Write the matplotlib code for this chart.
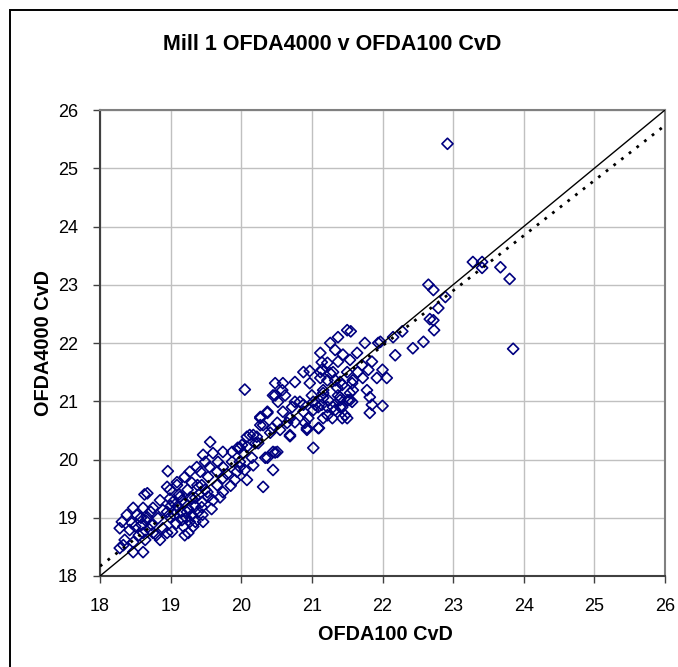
import matplotlib.pyplot as plt
import matplotlib.patches as patches
import numpy as np

plt.rcParams['font.family'] = ['Liberation Sans', 'DejaVu Sans']

# OFDA100 CvD (x) vs OFDA4000 CvD (y)
pts = [
    # upper end / outliers
    (22.92, 25.42), (23.85, 21.90), (23.80, 23.10), (23.67, 23.30), (23.41, 23.39),
    (23.41, 23.29), (23.28, 23.39), (22.65, 23.00), (22.72, 22.91), (22.89, 22.79),
    (22.79, 22.60), (22.67, 22.41), (22.72, 22.39), (22.73, 22.22), (22.58, 22.02),
    (22.43, 21.91), (22.18, 21.79), (22.15, 22.10), (22.28, 22.20), (21.97, 22.02),
    # 21 - 22
    (21.50, 22.22), (21.55, 22.20), (21.37, 22.10), (21.26, 22.00), (21.75, 22.00),
    (21.94, 22.00), (21.33, 21.88), (21.12, 21.83), (21.44, 21.80), (21.64, 21.83),
    (21.22, 21.66), (21.37, 21.68), (21.54, 21.71), (21.71, 21.62), (21.85, 21.68),
    (21.12, 21.50), (21.30, 21.50), (21.50, 21.50), (21.65, 21.50), (21.80, 21.54),
    (22.00, 21.54), (21.92, 21.40), (22.06, 21.40), (21.22, 21.36), (21.40, 21.33),
    (21.58, 21.36), (21.72, 21.40), (21.78, 21.19), (21.58, 21.19), (21.36, 21.23),
    (21.16, 21.19), (21.16, 21.06), (21.82, 21.07), (21.40, 21.07), (22.00, 20.92),
    (21.85, 20.94), (21.54, 21.02), (21.30, 20.90), (21.43, 20.90), (21.82, 20.80),
    (21.47, 20.76), (21.22, 20.76), (21.14, 21.67), (20.88, 21.50), (20.97, 21.52),
    (21.14, 21.54), (21.26, 21.48), (20.76, 21.33), (21.12, 21.40), (21.33, 21.36),
    (20.48, 21.31), (20.59, 21.31), (20.97, 21.31), (21.43, 21.28), (21.57, 21.31),
    (20.58, 21.19), (20.48, 21.10), (20.62, 21.10), (21.00, 21.10), (21.16, 21.14),
    (21.37, 21.10), (21.54, 21.14), (21.02, 20.99), (21.23, 21.02), (21.40, 21.02),
    (21.51, 21.02), (20.52, 20.99), (20.76, 20.99), (20.83, 20.99), (20.88, 20.94),
    (21.05, 20.94), (21.09, 20.90), (21.14, 20.94), (21.22, 20.90), (20.72, 20.90),
    (21.40, 20.90), (21.57, 20.99), (20.37, 20.82), (20.59, 20.82), (20.88, 20.82),
    (21.02, 20.85), (21.33, 20.85), (20.27, 20.73), (20.69, 20.71), (20.76, 20.64),
    (20.95, 20.71), (21.16, 20.71), (21.29, 20.71), (21.43, 20.71), (21.50, 20.71),
    (20.31, 20.59), (20.51, 20.63), (20.65, 20.63), (20.90, 20.63), (21.09, 20.54),
    (20.93, 20.51), (20.22, 20.39), (20.41, 20.46), (20.69, 20.40), (21.02, 20.20),
    # 20 - 21
    (20.05, 21.20), (20.45, 21.10), (20.27, 20.71), (20.27, 20.59), (20.44, 20.54),
    (20.55, 20.51), (20.69, 20.42), (20.93, 20.54), (21.10, 20.54), (20.08, 20.39),
    (20.17, 20.42), (20.20, 20.28), (19.98, 20.20), (20.45, 20.13), (20.48, 20.12),
    (20.34, 20.03), (20.45, 19.82), (20.17, 19.90), (19.98, 19.87), (20.37, 20.80),
    (20.12, 20.42), (19.56, 20.30), (20.24, 20.28), (20.01, 20.25), (19.95, 20.20),
    (20.08, 20.22), (19.74, 20.13), (19.87, 20.13), (19.46, 20.08), (19.60, 20.11),
    (20.03, 20.11), (20.37, 20.03), (20.51, 20.13), (20.15, 20.03),
    # 19 - 20
    (19.49, 19.96), (19.67, 19.96), (19.87, 19.96), (19.98, 19.96), (19.37, 19.87),
    (19.55, 19.87), (19.74, 19.87), (19.27, 19.79), (19.42, 19.79), (19.66, 19.79),
    (19.94, 19.79), (20.05, 19.82), (19.20, 19.70), (19.53, 19.70), (19.74, 19.68),
    (19.91, 19.65), (20.08, 19.65), (19.09, 19.61), (19.30, 19.60), (19.44, 19.56),
    (19.66, 19.56), (20.31, 19.53), (18.99, 19.48), (19.24, 19.48), (19.52, 19.44),
    (19.74, 19.44), (19.13, 19.36), (19.35, 19.34), (19.60, 19.30), (19.03, 19.27),
    (18.96, 19.80), (19.85, 19.55), (19.80, 19.75), (19.58, 19.15), (19.70, 19.35),
    # 18 - 19.5
    (18.67, 19.42), (18.63, 19.40), (18.95, 19.53), (19.09, 19.56), (19.38, 19.56),
    (19.49, 19.48), (18.85, 19.30), (18.99, 19.33), (19.16, 19.30), (19.30, 19.33),
    (19.44, 19.27), (19.53, 19.36), (18.47, 19.17), (18.61, 19.17), (18.75, 19.17),
    (18.89, 19.13), (19.06, 19.13), (19.23, 19.10), (19.39, 19.10), (18.38, 19.05),
    (18.52, 19.05), (18.67, 19.01), (18.82, 18.99), (18.99, 19.01), (19.16, 18.96),
    (19.27, 18.93), (19.46, 18.93), (18.31, 18.93), (18.45, 18.91), (18.59, 18.88),
    (18.73, 18.88), (18.89, 18.82), (19.02, 18.76), (18.95, 18.74), (19.25, 18.74),
    (18.28, 18.82), (18.42, 18.79), (18.61, 18.74), (18.75, 18.74), (18.35, 18.62),
    (18.47, 18.58), (18.64, 18.62), (18.85, 18.62), (18.28, 18.48), (18.33, 18.53),
    (18.47, 18.41), (18.61, 18.41), (19.05, 19.05), (19.10, 19.20), (19.15, 19.10),
    (19.20, 19.25), (19.25, 19.15), (19.30, 19.05), (19.12, 19.40), (19.00, 19.20),
    (19.35, 19.20), (19.18, 18.85), (19.08, 18.90), (19.28, 19.35), (19.40, 19.40),
    (18.95, 19.10), (19.22, 19.00), (19.32, 18.85), (19.45, 19.05), (18.55, 18.70),
    (18.70, 18.80), (18.65, 18.95), (18.80, 18.70), (18.50, 18.85), (18.58, 19.00),
    (18.72, 19.10), (19.20, 18.70), (19.35, 18.93), (19.44, 19.18),
]
ofda100 = np.array([p[0] for p in pts])
ofda4000 = np.array([p[1] for p in pts])

# linear trendline as drawn on the chart (slope, intercept)
trend_slope = 0.946
trend_icept = 1.14

axis_ticks = [18, 19, 20, 21, 22, 23, 24, 25, 26]

fig = plt.figure(figsize=(6.78, 6.67), dpi=100)
ax = fig.add_axes([100 / 678, 1 - 576 / 667, 565 / 678, 466 / 667])

# outer chart frame (only left and top edges fall inside the picture)
fig.patches.append(patches.Rectangle((10 / 678, -0.5), 2, 0.5 + (1 - 9.5 / 667),
                                     transform=fig.transFigure, fill=False,
                                     edgecolor='black', linewidth=1.4))

ax.grid(True, color='#c0c0c0', linewidth=1)
ax.set_axisbelow(True)

ax.scatter(ofda100, ofda4000, marker='D', s=32, facecolors='none',
           edgecolors='#000080', linewidths=1.2, zorder=3)

line = np.array([18, 26])
ax.plot(line, line, color='black', linewidth=1.0, zorder=4)
ax.plot(line, trend_slope * line + trend_icept, color='black', linewidth=2.0,
        linestyle=(0, (1, 2.5)), zorder=4)

ax.set_xlim(18, 26)
ax.set_ylim(18, 26)
ax.set_xticks(axis_ticks)
ax.set_yticks(axis_ticks)
ax.tick_params(direction='out', length=5, width=1, color='#404040',
               labelsize=13, pad=11)
for side in ['left', 'bottom']:
    ax.spines[side].set_color('#404040')
    ax.spines[side].set_linewidth(1.5)
for side in ['top', 'right']:
    ax.spines[side].set_color('#808080')
    ax.spines[side].set_linewidth(1.5)

fig.text(332 / 678, 1 - 44 / 667, 'Mill 1 OFDA4000 v OFDA100 CvD',
         ha='center', va='center', fontsize=15.5, fontweight='bold')
fig.text(385 / 678, 1 - 635 / 667, 'OFDA100 CvD', ha='center', va='center',
         fontsize=14.3, fontweight='bold')
fig.text(44 / 678, 1 - 343 / 667, 'OFDA4000 CvD', ha='center', va='center',
         rotation=90, fontsize=14.3, fontweight='bold')

fig.savefig('out.png', dpi=100)
